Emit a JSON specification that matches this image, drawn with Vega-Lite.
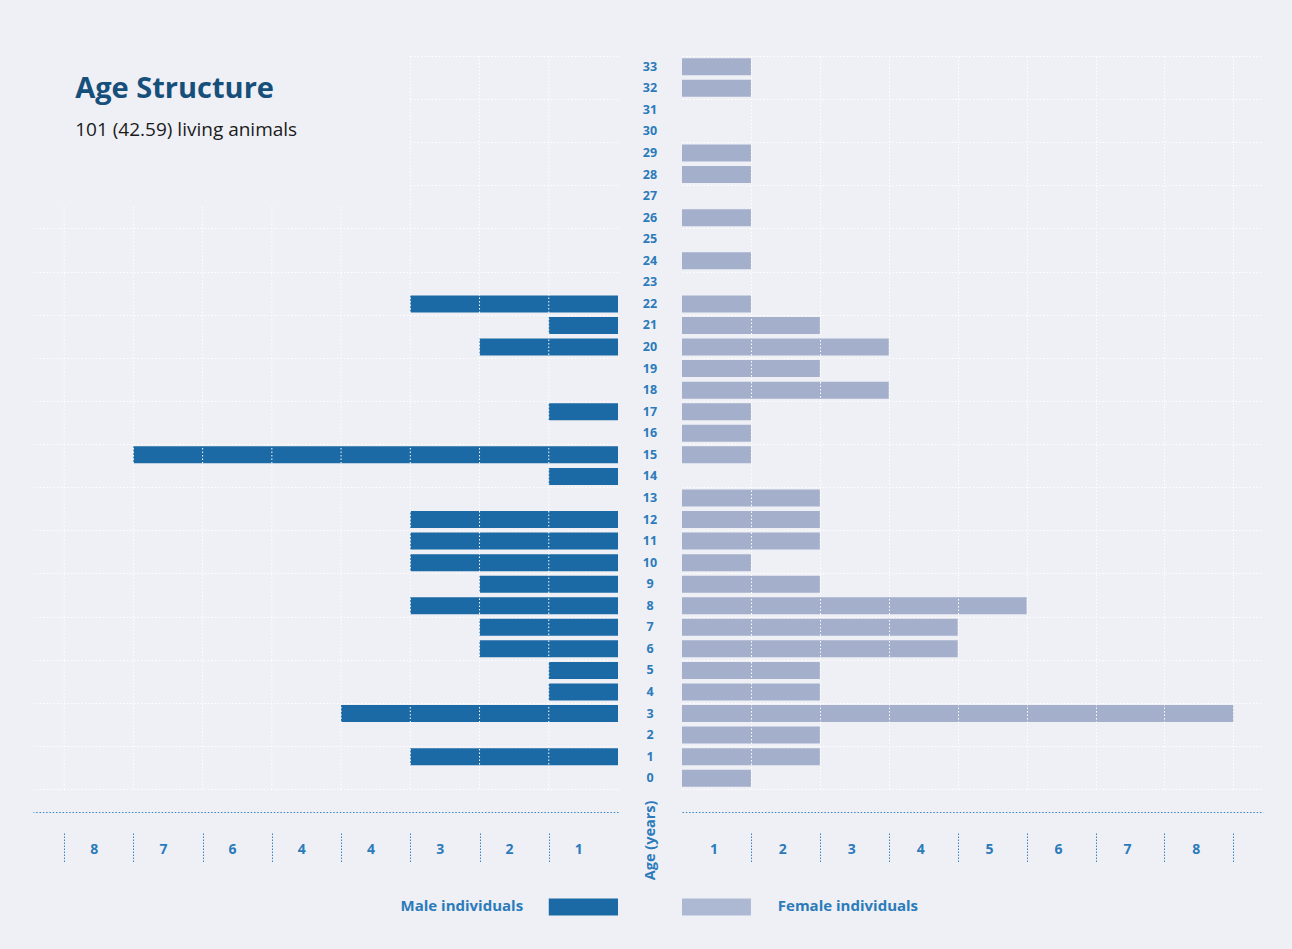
{
  "$schema": "https://vega.github.io/schema/vega-lite/v6.json",
  "background": "#eff0f6",
  "padding": {"left": 33, "top": 55, "right": 29, "bottom": 34},
  "config": {
    "view": {"stroke": null},
    "font": "Open Sans",
    "concat": {"spacing": 0}
  },
  "bounds": "flush",
  "spacing": 0,
  "datasets": {
    "animals": [
      {"sex": "Male", "age": 22, "count": 3},
      {"sex": "Male", "age": 21, "count": 1},
      {"sex": "Male", "age": 20, "count": 2},
      {"sex": "Male", "age": 17, "count": 1},
      {"sex": "Male", "age": 15, "count": 7},
      {"sex": "Male", "age": 14, "count": 1},
      {"sex": "Male", "age": 12, "count": 3},
      {"sex": "Male", "age": 11, "count": 3},
      {"sex": "Male", "age": 10, "count": 3},
      {"sex": "Male", "age": 9, "count": 2},
      {"sex": "Male", "age": 8, "count": 3},
      {"sex": "Male", "age": 7, "count": 2},
      {"sex": "Male", "age": 6, "count": 2},
      {"sex": "Male", "age": 5, "count": 1},
      {"sex": "Male", "age": 4, "count": 1},
      {"sex": "Male", "age": 3, "count": 4},
      {"sex": "Male", "age": 1, "count": 3},
      {"sex": "Female", "age": 33, "count": 1},
      {"sex": "Female", "age": 32, "count": 1},
      {"sex": "Female", "age": 29, "count": 1},
      {"sex": "Female", "age": 28, "count": 1},
      {"sex": "Female", "age": 26, "count": 1},
      {"sex": "Female", "age": 24, "count": 1},
      {"sex": "Female", "age": 22, "count": 1},
      {"sex": "Female", "age": 21, "count": 2},
      {"sex": "Female", "age": 20, "count": 3},
      {"sex": "Female", "age": 19, "count": 2},
      {"sex": "Female", "age": 18, "count": 3},
      {"sex": "Female", "age": 17, "count": 1},
      {"sex": "Female", "age": 16, "count": 1},
      {"sex": "Female", "age": 15, "count": 1},
      {"sex": "Female", "age": 13, "count": 2},
      {"sex": "Female", "age": 12, "count": 2},
      {"sex": "Female", "age": 11, "count": 2},
      {"sex": "Female", "age": 10, "count": 1},
      {"sex": "Female", "age": 9, "count": 2},
      {"sex": "Female", "age": 8, "count": 5},
      {"sex": "Female", "age": 7, "count": 4},
      {"sex": "Female", "age": 6, "count": 4},
      {"sex": "Female", "age": 5, "count": 2},
      {"sex": "Female", "age": 4, "count": 2},
      {"sex": "Female", "age": 3, "count": 8},
      {"sex": "Female", "age": 2, "count": 2},
      {"sex": "Female", "age": 1, "count": 2},
      {"sex": "Female", "age": 0, "count": 1}
    ],
    "ages": [
      {"age": 0}, {"age": 1}, {"age": 2}, {"age": 3}, {"age": 4}, {"age": 5},
      {"age": 6}, {"age": 7}, {"age": 8}, {"age": 9}, {"age": 10}, {"age": 11},
      {"age": 12}, {"age": 13}, {"age": 14}, {"age": 15}, {"age": 16}, {"age": 17},
      {"age": 18}, {"age": 19}, {"age": 20}, {"age": 21}, {"age": 22}, {"age": 23},
      {"age": 24}, {"age": 25}, {"age": 26}, {"age": 27}, {"age": 28}, {"age": 29},
      {"age": 30}, {"age": 31}, {"age": 32}, {"age": 33}
    ],
    "one": [{}]
  },
  "hconcat": [
    {
      "width": 585,
      "height": 733,
      "layer": [
        {
          "data": {"name": "one"},
          "mark": {"type": "rect", "fill": "#eff0f6"},
          "encoding": {
            "x": {"datum": 3, "type": "quantitative"},
            "x2": {"datum": 8.45},
            "y": {"datum": 26.55, "type": "quantitative"},
            "y2": {"datum": 33.53}
          }
        },
        {
          "data": {"name": "animals"},
          "transform": [{"filter": "datum.sex === 'Male'"}],
          "mark": {"type": "bar", "orient": "horizontal", "size": 17, "color": "#1b6aa5"},
          "encoding": {
            "x": {
              "field": "count", "type": "quantitative",
              "scale": {"domain": [0, 8.45], "reverse": true, "nice": false, "zero": false, "padding": 0},
              "axis": {
                "title": null,
                "values": [1, 2, 3, 4, 5, 6, 7, 8],
                "offset": 23,
                "grid": false,
                "domainColor": "#3a84c4",
                "domainDash": [1.5, 1.8],
                "domainWidth": 1,
                "tickColor": "#3a84c4",
                "tickSize": 52,
                "tickWidth": 1,
                "tickDash": [0, 21, 1.5, 1.5, 1.5, 1.5, 1.5, 1.5, 1.5, 1.5, 1.5, 1.5, 1.5, 1.5, 1.5, 1.5, 1.5, 1.5, 1.5, 1.5, 1.5, 1.5],
                "labelOffset": 29.5,
                "labelPadding": -15,
                "labelBaseline": "middle",
                "labelFontSize": 14,
                "labelFontWeight": "bold",
                "labelColor": "#2b7bba",
                "labelFlush": false,
                "labelOverlap": false,
                "labelExpr": "datum.value == 5 ? '4' : format(datum.value, 'd')"
              }
            },
            "y": {
              "field": "age", "type": "quantitative",
              "scale": {"domain": [-0.5, 33.5], "nice": false, "zero": false, "padding": 0},
              "axis": {
                "title": null,
                "labels": false,
                "ticks": false,
                "domain": false,
                "grid": true,
                "gridColor": "#ffffff",
                "gridDash": [1.5, 2],
                "gridWidth": 1,
                "zindex": 0,
                "values": [-0.5, 0.5, 1.5, 2.5, 3.5, 4.5, 5.5, 6.5, 7.5, 8.5, 9.5, 10.5, 11.5, 12.5, 13.5, 14.5, 15.5, 16.5, 17.5, 18.5, 19.5, 20.5, 21.5, 22.5, 23.5, 24.5, 25.5, 26.5, 27.5, 28.5, 29.5, 30.5, 31.5, 32.5, 33.5]
              }
            }
          }
        },
        {"data": {"name": "one"}, "mark": {"type": "rule", "color": "#ffffff", "strokeDash": [1.5, 2], "strokeWidth": 1},
         "encoding": {"x": {"datum": 1, "type": "quantitative"}}},
        {"data": {"name": "one"}, "mark": {"type": "rule", "color": "#ffffff", "strokeDash": [1.5, 2], "strokeWidth": 1},
         "encoding": {"x": {"datum": 2, "type": "quantitative"}}},
        {"data": {"name": "one"}, "mark": {"type": "rule", "color": "#ffffff", "strokeDash": [1.5, 2], "strokeWidth": 1},
         "encoding": {"x": {"datum": 3, "type": "quantitative"}}},
        {"data": {"name": "one"}, "mark": {"type": "rule", "color": "#ffffff", "strokeDash": [1.5, 2], "strokeWidth": 1},
         "encoding": {"x": {"datum": 4, "type": "quantitative"}, "y": {"datum": -0.5, "type": "quantitative"}, "y2": {"datum": 26.5}}},
        {"data": {"name": "one"}, "mark": {"type": "rule", "color": "#ffffff", "strokeDash": [1.5, 2], "strokeWidth": 1},
         "encoding": {"x": {"datum": 5, "type": "quantitative"}, "y": {"datum": -0.5, "type": "quantitative"}, "y2": {"datum": 26.5}}},
        {"data": {"name": "one"}, "mark": {"type": "rule", "color": "#ffffff", "strokeDash": [1.5, 2], "strokeWidth": 1},
         "encoding": {"x": {"datum": 6, "type": "quantitative"}, "y": {"datum": -0.5, "type": "quantitative"}, "y2": {"datum": 26.5}}},
        {"data": {"name": "one"}, "mark": {"type": "rule", "color": "#ffffff", "strokeDash": [1.5, 2], "strokeWidth": 1},
         "encoding": {"x": {"datum": 7, "type": "quantitative"}, "y": {"datum": -0.5, "type": "quantitative"}, "y2": {"datum": 26.5}}},
        {"data": {"name": "one"}, "mark": {"type": "rule", "color": "#ffffff", "strokeDash": [1.5, 2], "strokeWidth": 1},
         "encoding": {"x": {"datum": 8, "type": "quantitative"}, "y": {"datum": -0.5, "type": "quantitative"}, "y2": {"datum": 26.5}}},
        {
          "data": {"name": "one"},
          "mark": {"type": "text", "text": "Age Structure", "align": "left", "baseline": "alphabetic", "fontSize": 29, "fontWeight": "bold", "color": "#174f7b"},
          "encoding": {"x": {"datum": 7.84, "type": "quantitative"}, "y": {"datum": 31.55, "type": "quantitative"}}
        },
        {
          "data": {"name": "one"},
          "mark": {"type": "text", "text": "101 (42.59) living animals", "align": "left", "baseline": "alphabetic", "fontSize": 19, "color": "#1a1a1a"},
          "encoding": {"x": {"datum": 7.84, "type": "quantitative"}, "y": {"datum": 29.8, "type": "quantitative"}}
        },
        {
          "data": {"name": "one"},
          "mark": {"type": "rect", "fill": "#1b6aa5"},
          "encoding": {
            "x": {"datum": 0, "type": "quantitative"},
            "x2": {"datum": 1},
            "y": {"datum": -5.58, "type": "quantitative"},
            "y2": {"datum": -6.37}
          }
        },
        {
          "data": {"name": "one"},
          "mark": {"type": "text", "text": "Male individuals", "align": "right", "baseline": "middle", "fontSize": 15, "fontWeight": "bold", "color": "#2b7bba"},
          "encoding": {"x": {"datum": 1.37, "type": "quantitative"}, "y": {"datum": -5.95, "type": "quantitative"}}
        }
      ]
    },
    {
      "width": 64,
      "height": 733,
      "data": {"name": "ages"},
      "mark": {"type": "text", "fontSize": 12.5, "fontWeight": "bold", "color": "#2b7bba", "baseline": "middle", "align": "center"},
      "encoding": {
        "x": {
          "datum": 0, "type": "quantitative",
          "scale": {"domain": [-1, 1]},
          "axis": {
            "title": "Age (years)",
            "labels": false, "ticks": false, "domain": false, "grid": false,
            "titleAngle": 270,
            "titleAlign": "right",
            "titleBaseline": "middle",
            "titlePadding": 11,
            "titleFontSize": 14.5,
            "titleFontWeight": "bold",
            "titleColor": "#2b7bba"
          }
        },
        "y": {
          "field": "age", "type": "quantitative",
          "scale": {"domain": [-0.5, 33.5], "nice": false, "zero": false, "padding": 0},
          "axis": null
        },
        "text": {"field": "age", "type": "nominal"}
      }
    },
    {
      "width": 581,
      "height": 733,
      "layer": [
        {
          "data": {"name": "animals"},
          "transform": [{"filter": "datum.sex === 'Female'"}],
          "mark": {"type": "bar", "orient": "horizontal", "size": 17, "color": "#a3afcb"},
          "encoding": {
            "x": {
              "field": "count", "type": "quantitative",
              "scale": {"domain": [0, 8.43], "nice": false, "zero": false, "padding": 0},
              "axis": {
                "title": null,
                "values": [1, 2, 3, 4, 5, 6, 7, 8],
                "format": "d",
                "offset": 23,
                "grid": true,
                "gridColor": "#ffffff",
                "gridDash": [1.5, 2],
                "gridWidth": 1,
                "zindex": 1,
                "domainColor": "#3a84c4",
                "domainDash": [1.5, 1.8],
                "domainWidth": 1,
                "tickColor": "#3a84c4",
                "tickSize": 52,
                "tickWidth": 1,
                "tickDash": [0, 21, 1.5, 1.5, 1.5, 1.5, 1.5, 1.5, 1.5, 1.5, 1.5, 1.5, 1.5, 1.5, 1.5, 1.5, 1.5, 1.5, 1.5, 1.5, 1.5, 1.5],
                "labelOffset": -37.5,
                "labelPadding": -15,
                "labelBaseline": "middle",
                "labelFontSize": 14,
                "labelFontWeight": "bold",
                "labelColor": "#2b7bba",
                "labelFlush": false,
                "labelOverlap": false
              }
            },
            "y": {
              "field": "age", "type": "quantitative",
              "scale": {"domain": [-0.5, 33.5], "nice": false, "zero": false, "padding": 0},
              "axis": {
                "title": null,
                "labels": false,
                "ticks": false,
                "domain": false,
                "grid": true,
                "gridColor": "#ffffff",
                "gridDash": [1.5, 2],
                "gridWidth": 1,
                "zindex": 0,
                "values": [-0.5, 0.5, 1.5, 2.5, 3.5, 4.5, 5.5, 6.5, 7.5, 8.5, 9.5, 10.5, 11.5, 12.5, 13.5, 14.5, 15.5, 16.5, 17.5, 18.5, 19.5, 20.5, 21.5, 22.5, 23.5, 24.5, 25.5, 26.5, 27.5, 28.5, 29.5, 30.5, 31.5, 32.5, 33.5]
              }
            }
          }
        },
        {
          "data": {"name": "one"},
          "mark": {"type": "rect", "fill": "#adb9d3"},
          "encoding": {
            "x": {"datum": 0, "type": "quantitative"},
            "x2": {"datum": 1},
            "y": {"datum": -5.58, "type": "quantitative"},
            "y2": {"datum": -6.37}
          }
        },
        {
          "data": {"name": "one"},
          "mark": {"type": "text", "text": "Female individuals", "align": "left", "baseline": "middle", "fontSize": 15, "fontWeight": "bold", "color": "#2b7bba"},
          "encoding": {"x": {"datum": 1.39, "type": "quantitative"}, "y": {"datum": -5.95, "type": "quantitative"}}
        }
      ]
    }
  ]
}
